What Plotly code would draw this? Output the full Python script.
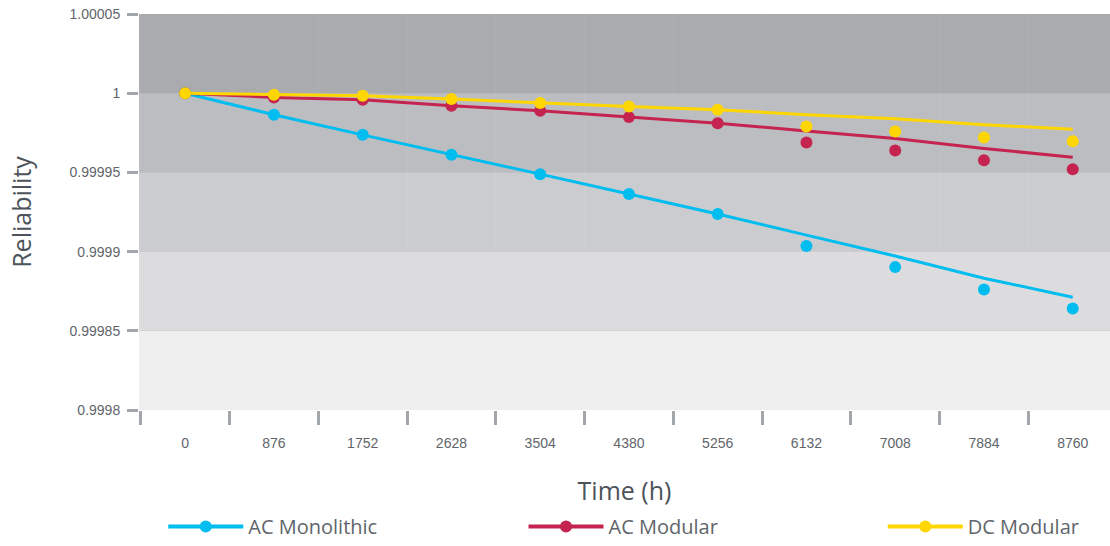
import plotly.graph_objects as go

# ---- data ----
time_h = ["0", "876", "1752", "2628", "3504", "4380", "5256", "6132", "7008", "7884", "8760"]

ac_mono_pts = [1.0, 0.9999864, 0.9999737, 0.9999611, 0.9999489, 0.9999364, 0.9999237,
               0.9999035, 0.9998902, 0.9998761, 0.9998641]
ac_mono_fit = [1.0, 0.9999864, 0.9999737, 0.9999611, 0.9999489, 0.9999364, 0.9999237,
               0.9999104, 0.9998972, 0.9998832, 0.9998712]

ac_mod_pts = [1.0, 0.9999973, 0.9999959, 0.9999921, 0.9999889, 0.9999849, 0.9999811,
              0.9999689, 0.9999638, 0.9999577, 0.9999520]
ac_mod_fit = [1.0, 0.9999973, 0.9999959, 0.9999921, 0.9999889, 0.9999849, 0.9999811,
              0.9999761, 0.9999714, 0.9999651, 0.9999596]

dc_mod_pts = [1.0, 0.9999990, 0.9999984, 0.9999963, 0.9999938, 0.9999916, 0.9999896,
              0.9999790, 0.9999758, 0.9999720, 0.9999697]
dc_mod_fit = [1.0, 0.9999990, 0.9999984, 0.9999963, 0.9999938, 0.9999916, 0.9999896,
              0.9999864, 0.9999839, 0.9999801, 0.9999773]

y_ticks = [0.9998, 0.99985, 0.9999, 0.99995, 1.0, 1.00005]
y_tick_text = ["0.9998", "0.99985", "0.9999", "0.99995", "1", "1.00005"]

series_names = ["AC Monolithic", "AC Modular", "DC Modular"]

# ---- style ----
colors = ["#00bdf0", "#c4244f", "#ffd600"]
band_colors = ["#efeff0", "#dcdcde", "#cbcccf", "#bcbdc0", "#aaabae"]
legend_ids = ["legend", "legend2", "legend3"]
legend_x = [0.025, 0.396, 0.766]
text_col = "#5f656b"
title_col = "#4c535a"
title_font = "'Open Sans', Lato, sans-serif"
tick_font = "'Liberation Sans', Arial, sans-serif"

fig = go.Figure()

pairs = [(ac_mono_fit, ac_mono_pts), (ac_mod_fit, ac_mod_pts), (dc_mod_fit, dc_mod_pts)]
for i, (fit, pts) in enumerate(pairs):
    fig.add_trace(go.Scatter(x=time_h, y=fit, mode="lines",
                             line=dict(color=colors[i], width=3),
                             showlegend=False, hoverinfo="skip"))
    fig.add_trace(go.Scatter(x=time_h, y=pts, mode="markers",
                             marker=dict(color=colors[i], size=12),
                             name=series_names[i], showlegend=False))
    # legend entry
    fig.add_trace(go.Scatter(x=[None], y=[None], mode="lines+markers",
                             line=dict(color=colors[i], width=4),
                             marker=dict(color=colors[i], size=12),
                             name=series_names[i], showlegend=True,
                             legend=legend_ids[i]))

# background bands
for j in range(len(y_ticks) - 1):
    fig.add_shape(type="rect", xref="paper", yref="y", x0=0, x1=1,
                  y0=y_ticks[j], y1=y_ticks[j + 1],
                  fillcolor=band_colors[j], line_width=0, layer="below")

legend_common = dict(orientation="h", xanchor="left", yanchor="bottom",
                     yref="container", y=-0.008,
                     bgcolor="rgba(0,0,0,0)", itemwidth=75,
                     font=dict(family=title_font, size=20, color=text_col))
layout_legends = {}
for i, lid in enumerate(legend_ids):
    layout_legends[lid] = dict(legend_common, x=legend_x[i])

fig.update_layout(
    width=1110, height=546,
    margin=dict(l=139, r=0, t=14, b=136, autoexpand=False),
    paper_bgcolor="white", plot_bgcolor="rgba(0,0,0,0)",
    font=dict(family=tick_font, color=text_col),
    **layout_legends,
)

fig.update_xaxes(
    type="category", range=[-0.52, 10.42], tickson="boundaries",
    ticks="outside", ticklen=14, tickwidth=3, tickcolor="#a3a7ab",
    ticklabelstandoff=23, automargin=False,
    showgrid=True, gridcolor="rgba(255,255,255,0.06)", gridwidth=1,
    showline=False, zeroline=False,
    tickfont=dict(family=tick_font, size=14, color=text_col),
    title=dict(text="Time (h)", font=dict(family=title_font, size=25, color=title_col),
               standoff=33),
)
fig.update_yaxes(
    range=[0.9998, 1.00005], tickvals=y_ticks, ticktext=y_tick_text,
    ticks="outside", ticklen=11, tickwidth=3, tickcolor="#a3a7ab",
    ticklabelstandoff=4, automargin=False,
    showgrid=True, gridcolor="rgba(0,0,0,0.07)", gridwidth=1,
    showline=False, zeroline=False,
    tickfont=dict(family=tick_font, size=14, color=text_col),
    title=dict(text="Reliability", font=dict(family=title_font, size=25, color=title_col),
               standoff=30),
)

fig.write_html("out.html", config={"displayModeBar": False},
               post_script="document.body.style.margin='0';")
